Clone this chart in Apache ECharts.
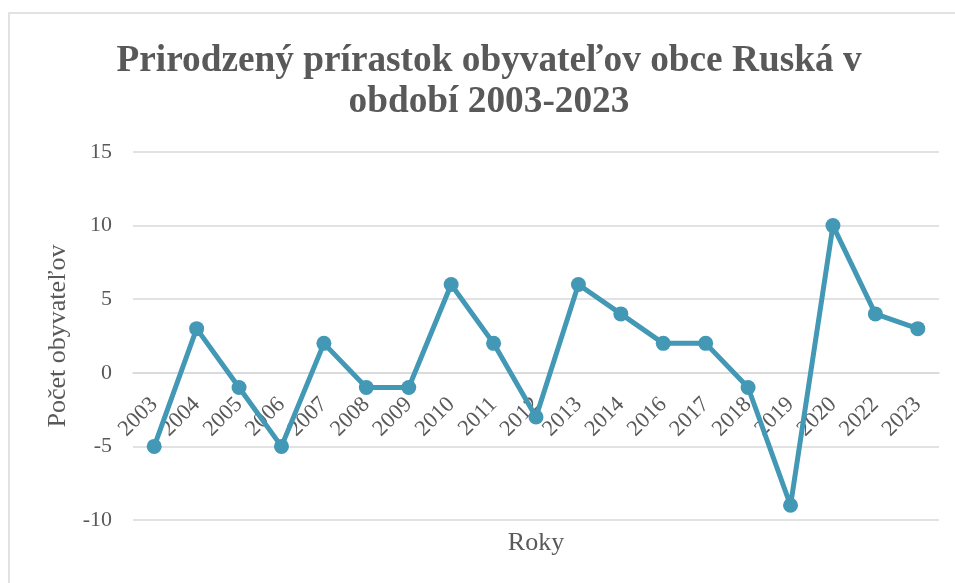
<!DOCTYPE html>
<html><head><meta charset="utf-8">
<script src="https://cdn.jsdelivr.net/npm/echarts@6/dist/echarts.min.js"></script>
<style>html,body{margin:0;padding:0;background:#fff}#c{width:955px;height:583px}</style>
</head><body><div id="c"></div>
<script>
const years = ['2003','2004','2005','2006','2007','2008','2009','2010','2011','2012','2013','2014','2016','2017','2018','2019','2020','2022','2023'];
const values = [-5,3,-1,-5,2,-1,-1,6,2,-3,6,4,2,2,-1,-9,10,4,3];
const yTicks = {min:-10, max:15, interval:5};
const titleText = 'Prirodzený prírastok obyvateľov obce Ruská v\nobdobí 2003-2023';
const xName = 'Roky';
const yName = 'Počet obyvateľov';

const font = 'Liberation Serif';
const gray = '#595959';
const chart = echarts.init(document.getElementById('c'));
chart.setOption({
  animation:false,
  graphic:[{type:'rect',shape:{x:9,y:13,width:1000,height:700},style:{fill:'none',stroke:'#d9d9d9',lineWidth:1.5},silent:true}],
  title:{text:titleText,left:484,top:36,textAlign:'center',
    textStyle:{fontFamily:font,fontWeight:'bold',fontSize:37.3,color:gray,lineHeight:41}},
  grid:{left:133,right:16,top:152,bottom:63,outerBoundsMode:'none',containLabel:false},
  xAxis:{type:'category',data:years,boundaryGap:true,offset:-147,
    axisLine:{onZero:false,lineStyle:{color:'#d9d9d9',width:1.5}},
    axisTick:{show:false},
    axisLabel:{rotate:45,color:gray,fontFamily:font,fontSize:22.5,margin:28,interval:0},
    name:xName,nameLocation:'middle',nameGap:157,
    nameTextStyle:{fontFamily:font,fontSize:26,color:gray}},
  yAxis:{type:'value',min:yTicks.min,max:yTicks.max,interval:yTicks.interval,
    axisLine:{show:false},axisTick:{show:false},
    splitLine:{lineStyle:{color:'#d9d9d9',width:1.5}},
    axisLabel:{color:gray,fontFamily:font,fontSize:22,margin:21},
    name:yName,nameLocation:'middle',nameGap:62,nameRotate:90,
    nameTextStyle:{fontFamily:font,fontSize:26,color:gray}},
  series:[{type:'line',data:values,symbol:'circle',symbolSize:15,
    lineStyle:{color:'#4298b5',width:5},itemStyle:{color:'#4298b5'}}]
});
</script></body></html>
